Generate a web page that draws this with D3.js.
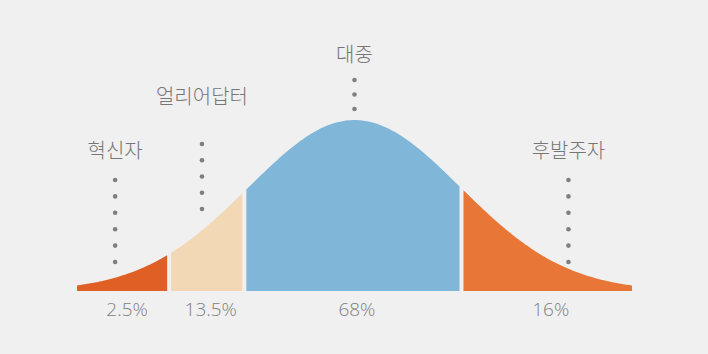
<!DOCTYPE html>
<html>
<head>
<meta charset="utf-8">
<script src="https://cdn.jsdelivr.net/npm/d3@7/dist/d3.min.js"></script>
<style>
    html,body{margin:0;padding:0;background:#f0f0f0;}
    svg{display:block;}
</style>
</head>
<body>
<div id="chart"></div>
<script>
// adopter groups, left to right
var categories = ["혁신자", "얼리어답터", "대중", "후발주자"];
var shares = ["2.5%", "13.5%", "68%", "16%"];
// segment bounds in standard deviations from the mean
var bounds = [[-2.62, -1.75], [-1.75, -1.04], [-1.04, 1.01], [1.01, 2.62]];
// where each name and its dotted leader sit, in standard deviations
var markerAt = [-2.26, -1.44, 0, 2.02];
var dotCounts = [6, 5, 3, 6];

var colors = ["#e05f25", "#f2d8b4", "#80b6d7", "#e87737"];

var layout = {
    width: 708,
    height: 354,
    left: 77,
    right: 632,
    base: 291,
    peak: 120,
    gap: 4,
    labelY: [158, 104, 62, 158],
    dotTop: [180, 144, 80, 180],
    dotStep: [16.4, 16.25, 14.5, 16.4],
    shareY: 316,
    shareShift: 4
};

var svg = d3.select("#chart").append("svg")
    .attr("width", layout.width)
    .attr("height", layout.height);

svg.append("rect")
    .attr("width", layout.width).attr("height", layout.height)
    .attr("fill", "#f0f0f0");

var x = d3.scaleLinear().domain([-2.62, 2.62]).range([layout.left, layout.right]);
var y = d3.scaleLinear().domain([0, 1]).range([layout.base, layout.peak]);

function bell(z){ return Math.exp(-z * z / 2); }

var area = d3.area()
    .x(function(d){ return d.px; })
    .y0(y(0))
    .y1(function(d){ return y(bell(x.invert(d.px))); })
    .curve(d3.curveLinear);

svg.append("g").attr("class", "segments").selectAll("path")
    .data(bounds)
    .enter().append("path")
    .attr("fill", function(d, i){ return colors[i]; })
    .attr("d", function(d, i){
        var x0 = x(d[0]) + (i > 0 ? layout.gap / 2 : 0);
        var x1 = x(d[1]) - (i < bounds.length - 1 ? layout.gap / 2 : 0);
        var pts = d3.range(0, 61).map(function(k){ return {px: x0 + (x1 - x0) * k / 60}; });
        return area(pts);
    });

// dotted leaders
var leaders = svg.append("g").attr("class", "leaders");
categories.forEach(function(c, i){
    leaders.selectAll(null)
        .data(d3.range(dotCounts[i]))
        .enter().append("circle")
        .attr("cx", x(markerAt[i]))
        .attr("cy", function(k){ return layout.dotTop[i] + k * layout.dotStep[i]; })
        .attr("r", 2.3)
        .attr("fill", "#7f7f7f");
});

svg.append("g").attr("class", "names").selectAll("text")
    .data(categories)
    .enter().append("text")
    .text(function(d){ return d; })
    .attr("x", function(d, i){ return x(markerAt[i]); })
    .attr("y", function(d, i){ return layout.labelY[i]; })
    .attr("text-anchor", "middle")
    .attr("fill", "#767676")
    .attr("font-family", "'Noto Sans CJK KR', 'Noto Sans', sans-serif")
    .attr("font-weight", 300)
    .attr("font-size", "20px");

svg.append("g").attr("class", "shares").selectAll("text")
    .data(shares)
    .enter().append("text")
    .text(function(d){ return d; })
    .attr("x", function(d, i){ return (x(bounds[i][0]) + x(bounds[i][1])) / 2 + layout.shareShift; })
    .attr("y", layout.shareY)
    .attr("text-anchor", "middle")
    .attr("fill", "#808080")
    .attr("font-family", "'Open Sans', 'Noto Sans', sans-serif")
    .attr("font-weight", 300)
    .attr("font-size", "19px");
</script>
</body>
</html>
